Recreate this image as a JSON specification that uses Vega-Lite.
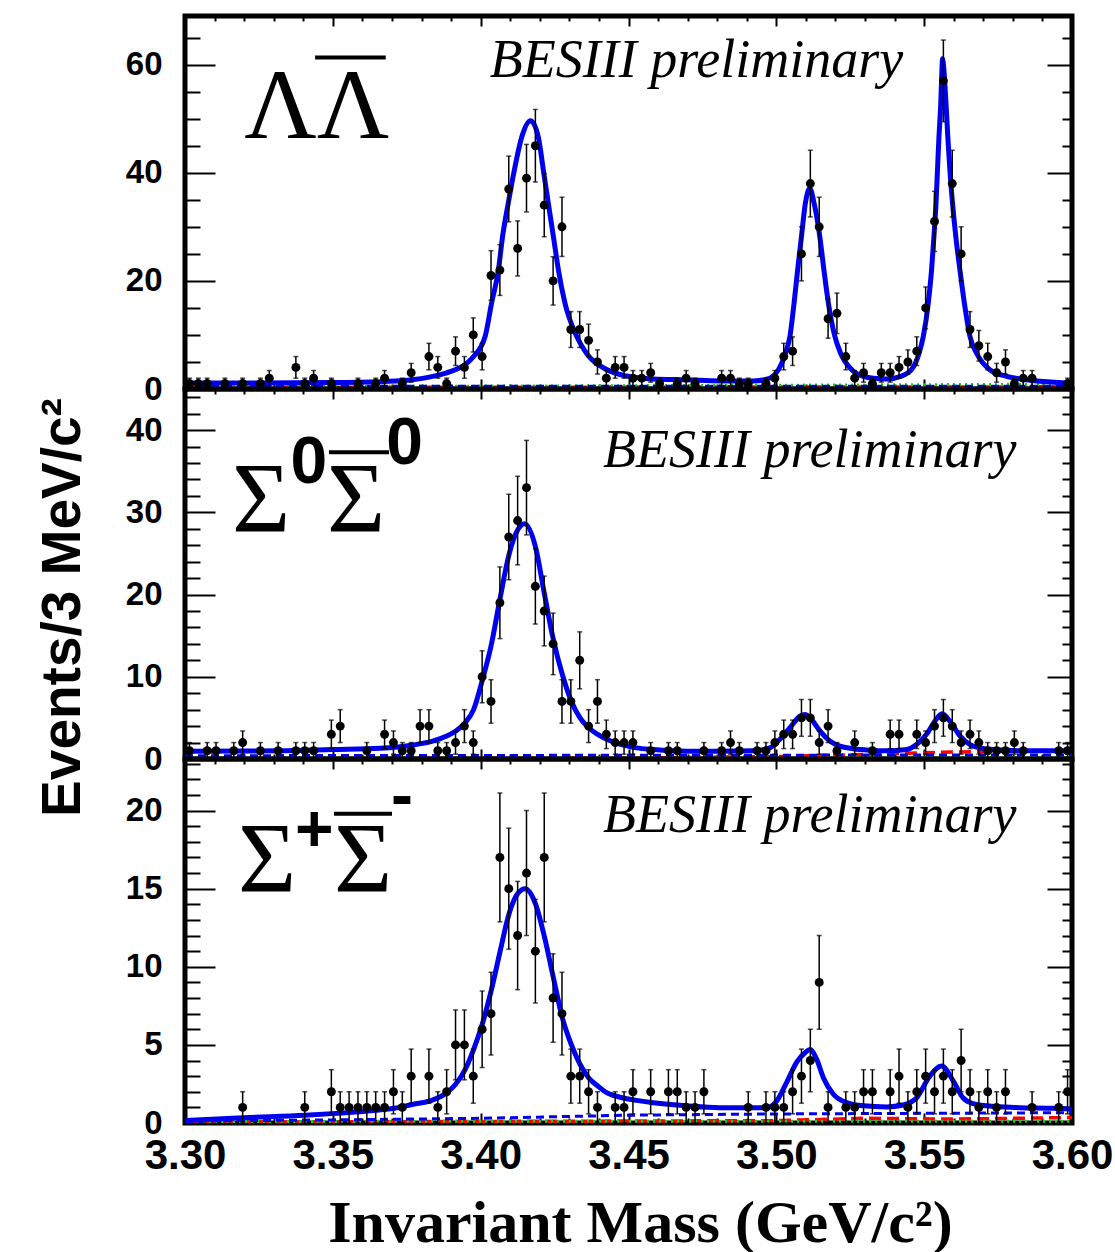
{
"$schema": "https://vega.github.io/schema/vega-lite/v6.json",
"background": "white",
"padding": {"left": 32, "top": 12, "right": 5, "bottom": 5},
"bounds": "flush",
"spacing": 0,
"config": {
  "view": {"stroke": "black", "strokeWidth": 5},
  "axis": {"grid": false, "domain": false, "tickColor": "black", "tickWidth": 2, "labelColor": "black", "titleColor": "black", "labelFlush": false, "labelOverlap": false, "labelBound": false}
},
"datasets": {
  "p1": [
    {"m":3.3015,"n":1,"e":1},{"m":3.3045,"n":1,"e":1},{"m":3.3075,"n":1,"e":1},{"m":3.3135,"n":1,"e":1},{"m":3.3195,"n":1,"e":1},{"m":3.3255,"n":1,"e":1},{"m":3.3285,"n":2,"e":1.414},{"m":3.3375,"n":4,"e":2},{"m":3.3405,"n":1,"e":1},{"m":3.3435,"n":2,"e":1.414},{"m":3.3495,"n":1,"e":1},{"m":3.3585,"n":1,"e":1},{"m":3.3645,"n":1,"e":1},{"m":3.3675,"n":2,"e":1.414},{"m":3.3735,"n":1,"e":1},{"m":3.3765,"n":3,"e":1.732},{"m":3.3825,"n":6,"e":2.449},{"m":3.3855,"n":4,"e":2},{"m":3.3885,"n":1,"e":1},{"m":3.3915,"n":7,"e":2.646},{"m":3.3945,"n":4,"e":2},{"m":3.3975,"n":10,"e":3.162},{"m":3.4005,"n":6,"e":2.449},{"m":3.4035,"n":21,"e":4.583},{"m":3.4065,"n":22,"e":4.690},{"m":3.4095,"n":37,"e":6.083},{"m":3.4125,"n":26,"e":5.099},{"m":3.4155,"n":39,"e":6.245},{"m":3.4185,"n":45,"e":6.708},{"m":3.4215,"n":34,"e":5.831},{"m":3.4245,"n":20,"e":4.472},{"m":3.4275,"n":30,"e":5.477},{"m":3.4305,"n":11,"e":3.317},{"m":3.4335,"n":11,"e":3.317},{"m":3.4365,"n":9,"e":3},{"m":3.4395,"n":5,"e":2.236},{"m":3.4425,"n":2,"e":1.414},{"m":3.4455,"n":4,"e":2},{"m":3.4485,"n":4,"e":2},{"m":3.4515,"n":2,"e":1.414},{"m":3.4545,"n":2,"e":1.414},{"m":3.4575,"n":3,"e":1.732},{"m":3.4605,"n":1,"e":1},{"m":3.4665,"n":1,"e":1},{"m":3.4695,"n":2,"e":1.414},{"m":3.4725,"n":1,"e":1},{"m":3.4815,"n":2,"e":1.414},{"m":3.4845,"n":2,"e":1.414},{"m":3.4875,"n":1,"e":1},{"m":3.4905,"n":1,"e":1},{"m":3.4965,"n":1,"e":1},{"m":3.4995,"n":2,"e":1.414},{"m":3.5025,"n":6,"e":2.449},{"m":3.5055,"n":7,"e":2.646},{"m":3.5085,"n":25,"e":5},{"m":3.5115,"n":38,"e":6.164},{"m":3.5145,"n":30,"e":5.477},{"m":3.5175,"n":13,"e":3.606},{"m":3.5205,"n":14,"e":3.742},{"m":3.5235,"n":6,"e":2.449},{"m":3.5265,"n":2,"e":1.414},{"m":3.5295,"n":3,"e":1.732},{"m":3.5325,"n":1,"e":1},{"m":3.5355,"n":3,"e":1.732},{"m":3.5385,"n":3,"e":1.732},{"m":3.5415,"n":4,"e":2},{"m":3.5445,"n":5,"e":2.236},{"m":3.5475,"n":7,"e":2.646},{"m":3.5505,"n":15,"e":3.873},{"m":3.5535,"n":31,"e":5.568},{"m":3.5565,"n":57,"e":7.550},{"m":3.5595,"n":38,"e":6.164},{"m":3.5625,"n":25,"e":5},{"m":3.5655,"n":11,"e":3.317},{"m":3.5685,"n":8,"e":2.828},{"m":3.5715,"n":6,"e":2.449},{"m":3.5745,"n":3,"e":1.732},{"m":3.5775,"n":5,"e":2.236},{"m":3.5805,"n":1,"e":1},{"m":3.5835,"n":2,"e":1.414},{"m":3.5865,"n":2,"e":1.414},{"m":3.5985,"n":1,"e":1}
  ],
  "p2": [
    {"m":3.3015,"n":1,"e":1},{"m":3.3075,"n":1,"e":1},{"m":3.3105,"n":1,"e":1},{"m":3.3165,"n":1,"e":1},{"m":3.3195,"n":2,"e":1.414},{"m":3.3255,"n":1,"e":1},{"m":3.3315,"n":1,"e":1},{"m":3.3375,"n":1,"e":1},{"m":3.3405,"n":1,"e":1},{"m":3.3435,"n":1,"e":1},{"m":3.3495,"n":3,"e":1.732},{"m":3.3525,"n":4,"e":2},{"m":3.3615,"n":1,"e":1},{"m":3.3675,"n":3,"e":1.732},{"m":3.3705,"n":2,"e":1.414},{"m":3.3735,"n":1,"e":1},{"m":3.3765,"n":1,"e":1},{"m":3.3795,"n":4,"e":2},{"m":3.3825,"n":4,"e":2},{"m":3.3855,"n":1,"e":1},{"m":3.3885,"n":1,"e":1},{"m":3.3915,"n":2,"e":1.414},{"m":3.3945,"n":4,"e":2},{"m":3.3975,"n":2,"e":1.414},{"m":3.4005,"n":10,"e":3.162},{"m":3.4035,"n":7,"e":2.646},{"m":3.4065,"n":19,"e":4.359},{"m":3.4095,"n":27,"e":5.196},{"m":3.4125,"n":29,"e":5.385},{"m":3.4155,"n":33,"e":5.745},{"m":3.4185,"n":21,"e":4.583},{"m":3.4215,"n":18,"e":4.243},{"m":3.4245,"n":14,"e":3.742},{"m":3.4275,"n":7,"e":2.646},{"m":3.4305,"n":7,"e":2.646},{"m":3.4335,"n":12,"e":3.464},{"m":3.4365,"n":4,"e":2},{"m":3.4395,"n":7,"e":2.646},{"m":3.4425,"n":3,"e":1.732},{"m":3.4455,"n":2,"e":1.414},{"m":3.4485,"n":2,"e":1.414},{"m":3.4515,"n":2,"e":1.414},{"m":3.4575,"n":1,"e":1},{"m":3.4635,"n":1,"e":1},{"m":3.4665,"n":1,"e":1},{"m":3.4755,"n":1,"e":1},{"m":3.4815,"n":1,"e":1},{"m":3.4845,"n":2,"e":1.414},{"m":3.4875,"n":1,"e":1},{"m":3.4935,"n":1,"e":1},{"m":3.4965,"n":1,"e":1},{"m":3.4995,"n":2,"e":1.414},{"m":3.5025,"n":3,"e":1.732},{"m":3.5055,"n":3,"e":1.732},{"m":3.5085,"n":5,"e":2.236},{"m":3.5115,"n":5,"e":2.236},{"m":3.5145,"n":2,"e":1.414},{"m":3.5175,"n":4,"e":2},{"m":3.5205,"n":1,"e":1},{"m":3.5265,"n":2,"e":1.414},{"m":3.5325,"n":1,"e":1},{"m":3.5385,"n":3,"e":1.732},{"m":3.5415,"n":3,"e":1.732},{"m":3.5475,"n":3,"e":1.732},{"m":3.5505,"n":2,"e":1.414},{"m":3.5535,"n":4,"e":2},{"m":3.5565,"n":5,"e":2.236},{"m":3.5595,"n":4,"e":2},{"m":3.5625,"n":2,"e":1.414},{"m":3.5655,"n":3,"e":1.732},{"m":3.5685,"n":2,"e":1.414},{"m":3.5715,"n":1,"e":1},{"m":3.5745,"n":1,"e":1},{"m":3.5775,"n":1,"e":1},{"m":3.5805,"n":2,"e":1.414},{"m":3.5835,"n":1,"e":1},{"m":3.5955,"n":1,"e":1},{"m":3.5985,"n":1,"e":1}
  ],
  "p3": [
    {"m":3.3195,"n":1,"e":1},{"m":3.3405,"n":1,"e":1},{"m":3.3495,"n":2,"e":1.414},{"m":3.3525,"n":1,"e":1},{"m":3.3555,"n":1,"e":1},{"m":3.3585,"n":1,"e":1},{"m":3.3615,"n":1,"e":1},{"m":3.3645,"n":1,"e":1},{"m":3.3675,"n":1,"e":1},{"m":3.3705,"n":2,"e":1.414},{"m":3.3735,"n":1,"e":1},{"m":3.3765,"n":3,"e":1.732},{"m":3.3825,"n":3,"e":1.732},{"m":3.3855,"n":1,"e":1},{"m":3.3885,"n":2,"e":1.414},{"m":3.3915,"n":5,"e":2.236},{"m":3.3945,"n":5,"e":2.236},{"m":3.3975,"n":3,"e":1.732},{"m":3.4005,"n":6,"e":2.449},{"m":3.4035,"n":7,"e":2.646},{"m":3.4065,"n":17,"e":4.123},{"m":3.4095,"n":15,"e":3.873},{"m":3.4125,"n":12,"e":3.464},{"m":3.4155,"n":16,"e":4},{"m":3.4185,"n":11,"e":3.317},{"m":3.4215,"n":17,"e":4.123},{"m":3.4245,"n":8,"e":2.828},{"m":3.4275,"n":7,"e":2.646},{"m":3.4305,"n":3,"e":1.732},{"m":3.4335,"n":3,"e":1.732},{"m":3.4365,"n":2,"e":1.414},{"m":3.4395,"n":1,"e":1},{"m":3.4455,"n":1,"e":1},{"m":3.4485,"n":1,"e":1},{"m":3.4515,"n":2,"e":1.414},{"m":3.4575,"n":2,"e":1.414},{"m":3.4635,"n":2,"e":1.414},{"m":3.4665,"n":2,"e":1.414},{"m":3.4695,"n":1,"e":1},{"m":3.4725,"n":1,"e":1},{"m":3.4755,"n":2,"e":1.414},{"m":3.4905,"n":1,"e":1},{"m":3.4965,"n":1,"e":1},{"m":3.4995,"n":1,"e":1},{"m":3.5025,"n":1,"e":1},{"m":3.5055,"n":2,"e":1.414},{"m":3.5085,"n":3,"e":1.732},{"m":3.5115,"n":4,"e":2},{"m":3.5145,"n":9,"e":3},{"m":3.5175,"n":1,"e":1},{"m":3.5235,"n":1,"e":1},{"m":3.5265,"n":1,"e":1},{"m":3.5295,"n":2,"e":1.414},{"m":3.5325,"n":2,"e":1.414},{"m":3.5385,"n":2,"e":1.414},{"m":3.5415,"n":3,"e":1.732},{"m":3.5445,"n":1,"e":1},{"m":3.5475,"n":2,"e":1.414},{"m":3.5505,"n":3,"e":1.732},{"m":3.5535,"n":2,"e":1.414},{"m":3.5565,"n":3,"e":1.732},{"m":3.5595,"n":2,"e":1.414},{"m":3.5625,"n":4,"e":2},{"m":3.5655,"n":2,"e":1.414},{"m":3.5685,"n":1,"e":1},{"m":3.5715,"n":2,"e":1.414},{"m":3.5745,"n":1,"e":1},{"m":3.5775,"n":2,"e":1.414},{"m":3.5865,"n":1,"e":1},{"m":3.5955,"n":1,"e":1},{"m":3.5985,"n":2,"e":1.414}
  ],
  "f1": [
    {"m":3.300,"v":1.05},{"m":3.3017,"v":1.1},{"m":3.3200,"v":1.1},{"m":3.3497,"v":1.2},{"m":3.3677,"v":1.4},{"m":3.3767,"v":1.7},{"m":3.3826,"v":2.2},{"m":3.3885,"v":3.0},{"m":3.3916,"v":3.6},{"m":3.3947,"v":4.5},{"m":3.3976,"v":6.0},{"m":3.4015,"v":9.7},{"m":3.4037,"v":15.9},{"m":3.4060,"v":22.0},{"m":3.4074,"v":28.2},{"m":3.4093,"v":34.3},{"m":3.4114,"v":40.5},{"m":3.4139,"v":46.6},{"m":3.4169,"v":49.6},{"m":3.4195,"v":46.6},{"m":3.4212,"v":40.5},{"m":3.4229,"v":34.3},{"m":3.4246,"v":28.2},{"m":3.4263,"v":22.0},{"m":3.4285,"v":15.9},{"m":3.4325,"v":9.7},{"m":3.4358,"v":6.6},{"m":3.4426,"v":3.6},{"m":3.4494,"v":2.4},{"m":3.4584,"v":1.85},{"m":3.4697,"v":1.7},{"m":3.4809,"v":1.5},{"m":3.4922,"v":1.5},{"m":3.4967,"v":1.8},{"m":3.5007,"v":3.57},{"m":3.5031,"v":6.65},{"m":3.5046,"v":9.72},{"m":3.5060,"v":15.9},{"m":3.5072,"v":22.0},{"m":3.5085,"v":28.2},{"m":3.5098,"v":34.3},{"m":3.5113,"v":37.1},{"m":3.5128,"v":34.3},{"m":3.5147,"v":28.2},{"m":3.5161,"v":22.0},{"m":3.5176,"v":15.9},{"m":3.5198,"v":9.72},{"m":3.5217,"v":6.65},{"m":3.5255,"v":3.57},{"m":3.5294,"v":2.34},{"m":3.5328,"v":2.0},{"m":3.5373,"v":1.85},{"m":3.5418,"v":2.3},{"m":3.5457,"v":3.57},{"m":3.5483,"v":6.65},{"m":3.5497,"v":9.72},{"m":3.5514,"v":15.9},{"m":3.5525,"v":22.0},{"m":3.5533,"v":28.2},{"m":3.5540,"v":34.3},{"m":3.5545,"v":40.5},{"m":3.5550,"v":46.6},{"m":3.5556,"v":52.7},{"m":3.5560,"v":58.9},{"m":3.5562,"v":61.1},{"m":3.5567,"v":58.9},{"m":3.5574,"v":52.7},{"m":3.5580,"v":46.6},{"m":3.5587,"v":40.5},{"m":3.5596,"v":34.3},{"m":3.5607,"v":28.2},{"m":3.5621,"v":22.0},{"m":3.5636,"v":15.9},{"m":3.5655,"v":9.72},{"m":3.5677,"v":6.65},{"m":3.5722,"v":3.57},{"m":3.5779,"v":2.34},{"m":3.5846,"v":1.72},{"m":3.5982,"v":1.1},{"m":3.6000,"v":1.05}
  ],
  "f2": [
    {"m":3.300,"v":0.95},{"m":3.3321,"v":1.0},{"m":3.3497,"v":1.15},{"m":3.3659,"v":1.3},{"m":3.3772,"v":1.7},{"m":3.3840,"v":2.2},{"m":3.3885,"v":2.8},{"m":3.3916,"v":3.4},{"m":3.3947,"v":4.4},{"m":3.3976,"v":6.0},{"m":3.4005,"v":9.5},{"m":3.4036,"v":13.9},{"m":3.4066,"v":19.6},{"m":3.4096,"v":24.9},{"m":3.4126,"v":27.9},{"m":3.4148,"v":28.6},{"m":3.4186,"v":25.7},{"m":3.4216,"v":20.0},{"m":3.4246,"v":14.5},{"m":3.4276,"v":10.3},{"m":3.4307,"v":7.0},{"m":3.4336,"v":5.0},{"m":3.4365,"v":3.8},{"m":3.4396,"v":3.0},{"m":3.4426,"v":2.4},{"m":3.4455,"v":2.0},{"m":3.4494,"v":1.6},{"m":3.4527,"v":1.35},{"m":3.4584,"v":1.15},{"m":3.4697,"v":0.95},{"m":3.4809,"v":0.95},{"m":3.4922,"v":1.0},{"m":3.4978,"v":1.35},{"m":3.5012,"v":2.4},{"m":3.5046,"v":3.8},{"m":3.5080,"v":5.2},{"m":3.5097,"v":5.4},{"m":3.5114,"v":5.0},{"m":3.5148,"v":3.4},{"m":3.5181,"v":2.2},{"m":3.5215,"v":1.56},{"m":3.5260,"v":1.25},{"m":3.5317,"v":1.07},{"m":3.5373,"v":1.0},{"m":3.5441,"v":1.15},{"m":3.5474,"v":1.75},{"m":3.5508,"v":3.0},{"m":3.5536,"v":4.6},{"m":3.5561,"v":5.5},{"m":3.5587,"v":4.6},{"m":3.5621,"v":2.8},{"m":3.5655,"v":1.75},{"m":3.5689,"v":1.35},{"m":3.5734,"v":1.15},{"m":3.5824,"v":1.0},{"m":3.600,"v":1.0}
  ],
  "f3": [
    {"m":3.300,"v":0.15},{"m":3.3197,"v":0.34},{"m":3.3406,"v":0.5},{"m":3.3497,"v":0.6},{"m":3.3618,"v":0.77},{"m":3.3708,"v":0.94},{"m":3.3772,"v":1.2},{"m":3.3826,"v":1.4},{"m":3.3885,"v":1.94},{"m":3.3916,"v":2.5},{"m":3.3947,"v":3.4},{"m":3.3976,"v":4.7},{"m":3.4005,"v":6.3},{"m":3.4036,"v":8.5},{"m":3.4066,"v":11.0},{"m":3.4096,"v":13.4},{"m":3.4126,"v":14.7},{"m":3.4150,"v":15.0},{"m":3.4186,"v":14.0},{"m":3.4216,"v":11.9},{"m":3.4246,"v":9.3},{"m":3.4276,"v":6.75},{"m":3.4307,"v":5.0},{"m":3.4336,"v":3.76},{"m":3.4365,"v":2.9},{"m":3.4396,"v":2.37},{"m":3.4426,"v":1.94},{"m":3.4455,"v":1.73},{"m":3.4494,"v":1.55},{"m":3.4527,"v":1.45},{"m":3.4584,"v":1.3},{"m":3.4697,"v":1.1},{"m":3.4809,"v":0.98},{"m":3.4967,"v":0.98},{"m":3.5001,"v":1.4},{"m":3.5035,"v":2.6},{"m":3.5069,"v":3.9},{"m":3.5097,"v":4.5},{"m":3.5114,"v":4.7},{"m":3.5136,"v":4.1},{"m":3.5159,"v":2.9},{"m":3.5193,"v":1.84},{"m":3.5238,"v":1.3},{"m":3.5294,"v":1.1},{"m":3.5373,"v":1.03},{"m":3.5429,"v":1.15},{"m":3.5474,"v":1.6},{"m":3.5519,"v":3.0},{"m":3.5559,"v":3.65},{"m":3.5598,"v":2.7},{"m":3.5632,"v":1.6},{"m":3.5666,"v":1.24},{"m":3.5711,"v":1.1},{"m":3.5824,"v":0.98},{"m":3.5937,"v":0.94},{"m":3.600,"v":0.88}
  ],
  "bg1": [
    {"c":"b","m":3.30,"v":0.5},{"c":"b","m":3.60,"v":0.5},
    {"c":"r","m":3.30,"v":0.3},{"c":"r","m":3.45,"v":0.35},{"c":"r","m":3.60,"v":0.4},
    {"c":"g","m":3.30,"v":0.4},{"c":"g","m":3.45,"v":0.6},{"c":"g","m":3.60,"v":0.9}
  ],
  "bg2": [
    {"c":"b","m":3.30,"v":0.4},{"c":"b","m":3.45,"v":0.45},{"c":"b","m":3.60,"v":0.5},
    {"c":"r","m":3.30,"v":0.05},{"c":"r","m":3.45,"v":0.1},{"c":"r","m":3.50,"v":0.3},{"c":"r","m":3.53,"v":0.55},{"c":"r","m":3.56,"v":0.85},{"c":"r","m":3.60,"v":1.0},
    {"c":"g","m":3.30,"v":0.1},{"c":"g","m":3.60,"v":0.15}
  ],
  "bg3": [
    {"c":"b","m":3.30,"v":0.12},{"c":"b","m":3.35,"v":0.2},{"c":"b","m":3.40,"v":0.3},{"c":"b","m":3.45,"v":0.5},{"c":"b","m":3.50,"v":0.58},{"c":"b","m":3.55,"v":0.62},{"c":"b","m":3.60,"v":0.66},
    {"c":"r","m":3.30,"v":0.05},{"c":"r","m":3.40,"v":0.1},{"c":"r","m":3.50,"v":0.15},{"c":"r","m":3.53,"v":0.3},{"c":"r","m":3.56,"v":0.25},{"c":"r","m":3.60,"v":0.35},
    {"c":"g","m":3.30,"v":0.1},{"c":"g","m":3.60,"v":0.12}
  ],
  "ann": [
    {"p":1,"k":"serif","t":"ΛΛ","m":3.3200,"v":46.5},
    {"p":1,"k":"bar","m":3.3440,"m2":3.3679,"v":61.3},
    {"p":1,"k":"tag","t":"BESIII preliminary","m":3.4031,"v":57.8},
    {"p":2,"k":"serif","t":"Σ","m":3.3159,"v":27.7},
    {"p":2,"k":"serif","t":"Σ","m":3.3480,"v":27.7},
    {"p":2,"k":"sup","t":"0","m":3.3357,"v":33.55},
    {"p":2,"k":"sup","t":"0","m":3.3681,"v":35.86},
    {"p":2,"k":"bar","m":3.3487,"m2":3.3690,"v":37.3},
    {"p":2,"k":"tag","t":"BESIII preliminary","m":3.4414,"v":35.5},
    {"p":3,"k":"serif","t":"Σ","m":3.3179,"v":14.87},
    {"p":3,"k":"serif","t":"Σ","m":3.3504,"v":14.87},
    {"p":3,"k":"sup","t":"+","m":3.3372,"v":17.4},
    {"p":3,"k":"sup","t":"-","m":3.3697,"v":19.6},
    {"p":3,"k":"bar","m":3.3504,"m2":3.3700,"v":19.8},
    {"p":3,"k":"tag","t":"BESIII preliminary","m":3.4414,"v":18.6}
  ]
},
"vconcat": [
  {
    "width": 887, "height": 373,
    "layer": [
      {"data": {"name": "bg1"}, "transform": [{"filter": "datum.c === 'r'"}],
       "mark": {"type": "line", "color": "#ff0000", "strokeWidth": 3.5, "strokeDash": [12, 6], "clip": true},
       "encoding": {
         "x": {"field": "m", "type": "quantitative", "scale": {"domain": [3.3, 3.6], "nice": false, "zero": false}, "axis": {"orient": "bottom", "values": [3.31,3.32,3.33,3.34,3.36,3.37,3.38,3.39,3.41,3.42,3.43,3.44,3.46,3.47,3.48,3.49,3.51,3.52,3.53,3.54,3.56,3.57,3.58,3.59], "tickSize": -5, "labels": false, "title": null}},
         "y": {"field": "v", "type": "quantitative", "scale": {"domain": [0, 69], "nice": false}, "axis": {"orient": "left", "values": [5,10,15,25,30,35,45,50,55,65], "tickSize": -15, "labels": false, "title": null}}}},
      {"data": {"name": "bg1"}, "transform": [{"filter": "datum.c === 'g'"}],
       "mark": {"type": "line", "color": "#00dd00", "strokeWidth": 3, "strokeDash": [2, 4], "clip": true},
       "encoding": {
         "x": {"field": "m", "type": "quantitative", "scale": {"domain": [3.3, 3.6], "nice": false, "zero": false}, "axis": {"orient": "top", "values": [3.31,3.32,3.33,3.34,3.36,3.37,3.38,3.39,3.41,3.42,3.43,3.44,3.46,3.47,3.48,3.49,3.51,3.52,3.53,3.54,3.56,3.57,3.58,3.59], "tickSize": -5, "labels": false, "title": null}},
         "y": {"field": "v", "type": "quantitative", "scale": {"domain": [0, 69], "nice": false}, "axis": {"orient": "right", "values": [5,10,15,25,30,35,45,50,55,65], "tickSize": -10, "labels": false, "title": null}}}},
      {"data": {"name": "bg1"}, "transform": [{"filter": "datum.c === 'b'"}],
       "mark": {"type": "line", "color": "#0000f0", "strokeWidth": 3, "strokeDash": [8, 5], "clip": true},
       "encoding": {
         "x": {"field": "m", "type": "quantitative", "scale": {"domain": [3.3, 3.6], "nice": false, "zero": false}, "axis": {"orient": "top", "values": [3.3,3.35,3.4,3.45,3.5,3.55,3.6], "tickSize": -10, "labels": false, "title": null}},
         "y": {"field": "v", "type": "quantitative", "scale": {"domain": [0, 69], "nice": false}, "axis": {"orient": "right", "values": [0,20,40,60], "tickSize": -25, "labels": false, "title": null}}}},
      {"data": {"name": "f1"},
       "mark": {"type": "line", "color": "#0000f0", "strokeWidth": 5, "interpolate": "monotone", "clip": true},
       "encoding": {
         "x": {"field": "m", "type": "quantitative", "scale": {"domain": [3.3, 3.6], "nice": false, "zero": false}, "axis": {"orient": "bottom", "values": [3.3,3.35,3.4,3.45,3.5,3.55,3.6], "tickSize": -10, "labels": false, "title": null}},
         "y": {"field": "v", "type": "quantitative", "scale": {"domain": [0, 69], "nice": false}, "axis": {"orient": "left", "values": [0,20,40,60], "tickSize": -30, "labelFont": "Liberation Sans", "labelFontWeight": "bold", "labelFontSize": 33, "labelPadding": 53, "title": null}}}},
      {"data": {"name": "p1"},
       "mark": {"type": "errorbar", "ticks": true, "color": "black", "thickness": 1.5},
       "encoding": {
         "x": {"field": "m", "type": "quantitative", "scale": {"domain": [3.3, 3.6], "nice": false, "zero": false}, "axis": null},
         "y": {"field": "n", "type": "quantitative", "scale": {"domain": [0, 69], "nice": false}, "axis": null},
         "yError": {"field": "e"}}},
      {"data": {"name": "p1"},
       "mark": {"type": "circle", "color": "black", "size": 80, "opacity": 1},
       "encoding": {
         "x": {"field": "m", "type": "quantitative", "scale": {"domain": [3.3, 3.6], "nice": false, "zero": false}, "axis": null},
         "y": {"field": "n", "type": "quantitative", "scale": {"domain": [0, 69], "nice": false}, "axis": null}}},
      {"data": {"name": "ann"}, "transform": [{"filter": "datum.p === 1 && datum.k === 'serif'"}],
       "mark": {"type": "text", "font": "Liberation Serif", "fontSize": 100, "align": "left", "baseline": "alphabetic", "color": "black"},
       "encoding": {
         "x": {"field": "m", "type": "quantitative", "scale": {"domain": [3.3, 3.6], "nice": false, "zero": false}, "axis": null},
         "y": {"field": "v", "type": "quantitative", "scale": {"domain": [0, 69], "nice": false}, "axis": null},
         "text": {"field": "t"}}},
      {"data": {"name": "ann"}, "transform": [{"filter": "datum.p === 1 && datum.k === 'bar'"}],
       "mark": {"type": "rule", "color": "black", "strokeWidth": 4},
       "encoding": {
         "x": {"field": "m", "type": "quantitative", "scale": {"domain": [3.3, 3.6], "nice": false, "zero": false}, "axis": null},
         "x2": {"field": "m2"},
         "y": {"field": "v", "type": "quantitative", "scale": {"domain": [0, 69], "nice": false}, "axis": null}}},
      {"data": {"name": "ann"}, "transform": [{"filter": "datum.p === 1 && datum.k === 'tag'"}],
       "mark": {"type": "text", "font": "Liberation Serif", "fontStyle": "italic", "fontSize": 54, "align": "left", "baseline": "alphabetic", "color": "black"},
       "encoding": {
         "x": {"field": "m", "type": "quantitative", "scale": {"domain": [3.3, 3.6], "nice": false, "zero": false}, "axis": null},
         "y": {"field": "v", "type": "quantitative", "scale": {"domain": [0, 69], "nice": false}, "axis": null},
         "text": {"field": "t"}}}
    ],
    "resolve": {"axis": {"x": "independent", "y": "independent"}}
  },
  {
    "width": 887, "height": 370,
    "layer": [
      {"data": {"name": "bg2"}, "transform": [{"filter": "datum.c === 'r'"}],
       "mark": {"type": "line", "color": "#ff0000", "strokeWidth": 3.5, "strokeDash": [12, 6], "clip": true},
       "encoding": {
         "x": {"field": "m", "type": "quantitative", "scale": {"domain": [3.3, 3.6], "nice": false, "zero": false}, "axis": {"orient": "bottom", "values": [3.31,3.32,3.33,3.34,3.36,3.37,3.38,3.39,3.41,3.42,3.43,3.44,3.46,3.47,3.48,3.49,3.51,3.52,3.53,3.54,3.56,3.57,3.58,3.59], "tickSize": -5, "labels": false, "title": null}},
         "y": {"field": "v", "type": "quantitative", "scale": {"domain": [0, 45], "nice": false}, "axis": {"orient": "left", "values": [2,4,6,8,12,14,16,18,22,24,26,28,32,34,36,38,42,44], "tickSize": -15, "labels": false, "title": null}}}},
      {"data": {"name": "bg2"}, "transform": [{"filter": "datum.c === 'g'"}],
       "mark": {"type": "line", "color": "#00dd00", "strokeWidth": 3, "strokeDash": [2, 4], "clip": true},
       "encoding": {
         "x": {"field": "m", "type": "quantitative", "scale": {"domain": [3.3, 3.6], "nice": false, "zero": false}, "axis": {"orient": "top", "values": [3.31,3.32,3.33,3.34,3.36,3.37,3.38,3.39,3.41,3.42,3.43,3.44,3.46,3.47,3.48,3.49,3.51,3.52,3.53,3.54,3.56,3.57,3.58,3.59], "tickSize": -5, "labels": false, "title": null}},
         "y": {"field": "v", "type": "quantitative", "scale": {"domain": [0, 45], "nice": false}, "axis": {"orient": "right", "values": [2,4,6,8,12,14,16,18,22,24,26,28,32,34,36,38,42,44], "tickSize": -10, "labels": false, "title": null}}}},
      {"data": {"name": "bg2"}, "transform": [{"filter": "datum.c === 'b'"}],
       "mark": {"type": "line", "color": "#0000f0", "strokeWidth": 3, "strokeDash": [8, 5], "clip": true},
       "encoding": {
         "x": {"field": "m", "type": "quantitative", "scale": {"domain": [3.3, 3.6], "nice": false, "zero": false}, "axis": {"orient": "top", "values": [3.3,3.35,3.4,3.45,3.5,3.55,3.6], "tickSize": -10, "labels": false, "title": null}},
         "y": {"field": "v", "type": "quantitative", "scale": {"domain": [0, 45], "nice": false}, "axis": {"orient": "right", "values": [0,10,20,30,40], "tickSize": -25, "labels": false, "title": null}}}},
      {"data": {"name": "f2"},
       "mark": {"type": "line", "color": "#0000f0", "strokeWidth": 5, "interpolate": "monotone", "clip": true},
       "encoding": {
         "x": {"field": "m", "type": "quantitative", "scale": {"domain": [3.3, 3.6], "nice": false, "zero": false}, "axis": {"orient": "bottom", "values": [3.3,3.35,3.4,3.45,3.5,3.55,3.6], "tickSize": -10, "labels": false, "title": null}},
         "y": {"field": "v", "type": "quantitative", "scale": {"domain": [0, 45], "nice": false}, "axis": {"orient": "left", "values": [0,10,20,30,40], "tickSize": -30, "labelFont": "Liberation Sans", "labelFontWeight": "bold", "labelFontSize": 33, "labelPadding": 53, "title": "Events/3 MeV/c²", "titleFont": "Liberation Sans", "titleFontWeight": "bold", "titleFontSize": 55, "titleX": -123, "titleY": 218, "titleAngle": -90, "titleAlign": "center", "titleBaseline": "middle"}}}},
      {"data": {"name": "p2"},
       "mark": {"type": "errorbar", "ticks": true, "color": "black", "thickness": 1.5},
       "encoding": {
         "x": {"field": "m", "type": "quantitative", "scale": {"domain": [3.3, 3.6], "nice": false, "zero": false}, "axis": null},
         "y": {"field": "n", "type": "quantitative", "scale": {"domain": [0, 45], "nice": false}, "axis": null},
         "yError": {"field": "e"}}},
      {"data": {"name": "p2"},
       "mark": {"type": "circle", "color": "black", "size": 80, "opacity": 1},
       "encoding": {
         "x": {"field": "m", "type": "quantitative", "scale": {"domain": [3.3, 3.6], "nice": false, "zero": false}, "axis": null},
         "y": {"field": "n", "type": "quantitative", "scale": {"domain": [0, 45], "nice": false}, "axis": null}}},
      {"data": {"name": "ann"}, "transform": [{"filter": "datum.p === 2 && datum.k === 'serif'"}],
       "mark": {"type": "text", "font": "Liberation Serif", "fontSize": 100, "align": "left", "baseline": "alphabetic", "color": "black"},
       "encoding": {
         "x": {"field": "m", "type": "quantitative", "scale": {"domain": [3.3, 3.6], "nice": false, "zero": false}, "axis": null},
         "y": {"field": "v", "type": "quantitative", "scale": {"domain": [0, 45], "nice": false}, "axis": null},
         "text": {"field": "t"}}},
      {"data": {"name": "ann"}, "transform": [{"filter": "datum.p === 2 && datum.k === 'sup'"}],
       "mark": {"type": "text", "font": "Liberation Sans", "fontWeight": "bold", "fontSize": 66, "align": "left", "baseline": "alphabetic", "color": "black"},
       "encoding": {
         "x": {"field": "m", "type": "quantitative", "scale": {"domain": [3.3, 3.6], "nice": false, "zero": false}, "axis": null},
         "y": {"field": "v", "type": "quantitative", "scale": {"domain": [0, 45], "nice": false}, "axis": null},
         "text": {"field": "t"}}},
      {"data": {"name": "ann"}, "transform": [{"filter": "datum.p === 2 && datum.k === 'bar'"}],
       "mark": {"type": "rule", "color": "black", "strokeWidth": 4},
       "encoding": {
         "x": {"field": "m", "type": "quantitative", "scale": {"domain": [3.3, 3.6], "nice": false, "zero": false}, "axis": null},
         "x2": {"field": "m2"},
         "y": {"field": "v", "type": "quantitative", "scale": {"domain": [0, 45], "nice": false}, "axis": null}}},
      {"data": {"name": "ann"}, "transform": [{"filter": "datum.p === 2 && datum.k === 'tag'"}],
       "mark": {"type": "text", "font": "Liberation Serif", "fontStyle": "italic", "fontSize": 54, "align": "left", "baseline": "alphabetic", "color": "black"},
       "encoding": {
         "x": {"field": "m", "type": "quantitative", "scale": {"domain": [3.3, 3.6], "nice": false, "zero": false}, "axis": null},
         "y": {"field": "v", "type": "quantitative", "scale": {"domain": [0, 45], "nice": false}, "axis": null},
         "text": {"field": "t"}}}
    ],
    "resolve": {"axis": {"x": "independent", "y": "independent"}}
  },
  {
    "width": 887, "height": 364,
    "layer": [
      {"data": {"name": "bg3"}, "transform": [{"filter": "datum.c === 'r'"}],
       "mark": {"type": "line", "color": "#ff0000", "strokeWidth": 3.5, "strokeDash": [12, 6], "clip": true},
       "encoding": {
         "x": {"field": "m", "type": "quantitative", "scale": {"domain": [3.3, 3.6], "nice": false, "zero": false}, "axis": {"orient": "bottom", "values": [3.31,3.32,3.33,3.34,3.36,3.37,3.38,3.39,3.41,3.42,3.43,3.44,3.46,3.47,3.48,3.49,3.51,3.52,3.53,3.54,3.56,3.57,3.58,3.59], "tickSize": -5, "labels": false, "title": null}},
         "y": {"field": "v", "type": "quantitative", "scale": {"domain": [0, 23.3], "nice": false}, "axis": {"orient": "left", "values": [1,2,3,4,6,7,8,9,11,12,13,14,16,17,18,19,21,22,23], "tickSize": -15, "labels": false, "title": null}}}},
      {"data": {"name": "bg3"}, "transform": [{"filter": "datum.c === 'g'"}],
       "mark": {"type": "line", "color": "#00dd00", "strokeWidth": 3, "strokeDash": [2, 4], "clip": true},
       "encoding": {
         "x": {"field": "m", "type": "quantitative", "scale": {"domain": [3.3, 3.6], "nice": false, "zero": false}, "axis": {"orient": "top", "values": [3.31,3.32,3.33,3.34,3.36,3.37,3.38,3.39,3.41,3.42,3.43,3.44,3.46,3.47,3.48,3.49,3.51,3.52,3.53,3.54,3.56,3.57,3.58,3.59], "tickSize": -5, "labels": false, "title": null}},
         "y": {"field": "v", "type": "quantitative", "scale": {"domain": [0, 23.3], "nice": false}, "axis": {"orient": "right", "values": [1,2,3,4,6,7,8,9,11,12,13,14,16,17,18,19,21,22,23], "tickSize": -10, "labels": false, "title": null}}}},
      {"data": {"name": "bg3"}, "transform": [{"filter": "datum.c === 'b'"}],
       "mark": {"type": "line", "color": "#0000f0", "strokeWidth": 3, "strokeDash": [8, 5], "clip": true},
       "encoding": {
         "x": {"field": "m", "type": "quantitative", "scale": {"domain": [3.3, 3.6], "nice": false, "zero": false}, "axis": {"orient": "top", "values": [3.3,3.35,3.4,3.45,3.5,3.55,3.6], "tickSize": -10, "labels": false, "title": null}},
         "y": {"field": "v", "type": "quantitative", "scale": {"domain": [0, 23.3], "nice": false}, "axis": {"orient": "right", "values": [0,5,10,15,20], "tickSize": -25, "labels": false, "title": null}}}},
      {"data": {"name": "f3"},
       "mark": {"type": "line", "color": "#0000f0", "strokeWidth": 5, "interpolate": "monotone", "clip": true},
       "encoding": {
         "x": {"field": "m", "type": "quantitative", "scale": {"domain": [3.3, 3.6], "nice": false, "zero": false}, "axis": {"orient": "bottom", "values": [3.3,3.35,3.4,3.45,3.5,3.55,3.6], "tickSize": -10, "format": ".2f", "labelFont": "Liberation Sans", "labelFontWeight": "bold", "labelFontSize": 42, "labelPadding": 22, "labelBaseline": "top", "title": "Invariant Mass (GeV/c²)", "titleFont": "Liberation Serif", "titleFontWeight": "bold", "titleFontSize": 60, "titleX": 455, "titleY": 100, "titleAlign": "center", "titleBaseline": "middle", "titleAngle": 0}},
         "y": {"field": "v", "type": "quantitative", "scale": {"domain": [0, 23.3], "nice": false}, "axis": {"orient": "left", "values": [0,5,10,15,20], "tickSize": -30, "labelFont": "Liberation Sans", "labelFontWeight": "bold", "labelFontSize": 33, "labelPadding": 53, "title": null}}}},
      {"data": {"name": "p3"},
       "mark": {"type": "errorbar", "ticks": true, "color": "black", "thickness": 1.5},
       "encoding": {
         "x": {"field": "m", "type": "quantitative", "scale": {"domain": [3.3, 3.6], "nice": false, "zero": false}, "axis": null},
         "y": {"field": "n", "type": "quantitative", "scale": {"domain": [0, 23.3], "nice": false}, "axis": null},
         "yError": {"field": "e"}}},
      {"data": {"name": "p3"},
       "mark": {"type": "circle", "color": "black", "size": 80, "opacity": 1},
       "encoding": {
         "x": {"field": "m", "type": "quantitative", "scale": {"domain": [3.3, 3.6], "nice": false, "zero": false}, "axis": null},
         "y": {"field": "n", "type": "quantitative", "scale": {"domain": [0, 23.3], "nice": false}, "axis": null}}},
      {"data": {"name": "ann"}, "transform": [{"filter": "datum.p === 3 && datum.k === 'serif'"}],
       "mark": {"type": "text", "font": "Liberation Serif", "fontSize": 100, "align": "left", "baseline": "alphabetic", "color": "black"},
       "encoding": {
         "x": {"field": "m", "type": "quantitative", "scale": {"domain": [3.3, 3.6], "nice": false, "zero": false}, "axis": null},
         "y": {"field": "v", "type": "quantitative", "scale": {"domain": [0, 23.3], "nice": false}, "axis": null},
         "text": {"field": "t"}}},
      {"data": {"name": "ann"}, "transform": [{"filter": "datum.p === 3 && datum.k === 'sup'"}],
       "mark": {"type": "text", "font": "Liberation Sans", "fontWeight": "bold", "fontSize": 66, "align": "left", "baseline": "alphabetic", "color": "black"},
       "encoding": {
         "x": {"field": "m", "type": "quantitative", "scale": {"domain": [3.3, 3.6], "nice": false, "zero": false}, "axis": null},
         "y": {"field": "v", "type": "quantitative", "scale": {"domain": [0, 23.3], "nice": false}, "axis": null},
         "text": {"field": "t"}}},
      {"data": {"name": "ann"}, "transform": [{"filter": "datum.p === 3 && datum.k === 'bar'"}],
       "mark": {"type": "rule", "color": "black", "strokeWidth": 4},
       "encoding": {
         "x": {"field": "m", "type": "quantitative", "scale": {"domain": [3.3, 3.6], "nice": false, "zero": false}, "axis": null},
         "x2": {"field": "m2"},
         "y": {"field": "v", "type": "quantitative", "scale": {"domain": [0, 23.3], "nice": false}, "axis": null}}},
      {"data": {"name": "ann"}, "transform": [{"filter": "datum.p === 3 && datum.k === 'tag'"}],
       "mark": {"type": "text", "font": "Liberation Serif", "fontStyle": "italic", "fontSize": 54, "align": "left", "baseline": "alphabetic", "color": "black"},
       "encoding": {
         "x": {"field": "m", "type": "quantitative", "scale": {"domain": [3.3, 3.6], "nice": false, "zero": false}, "axis": null},
         "y": {"field": "v", "type": "quantitative", "scale": {"domain": [0, 23.3], "nice": false}, "axis": null},
         "text": {"field": "t"}}}
    ],
    "resolve": {"axis": {"x": "independent", "y": "independent"}}
  }
]
}
